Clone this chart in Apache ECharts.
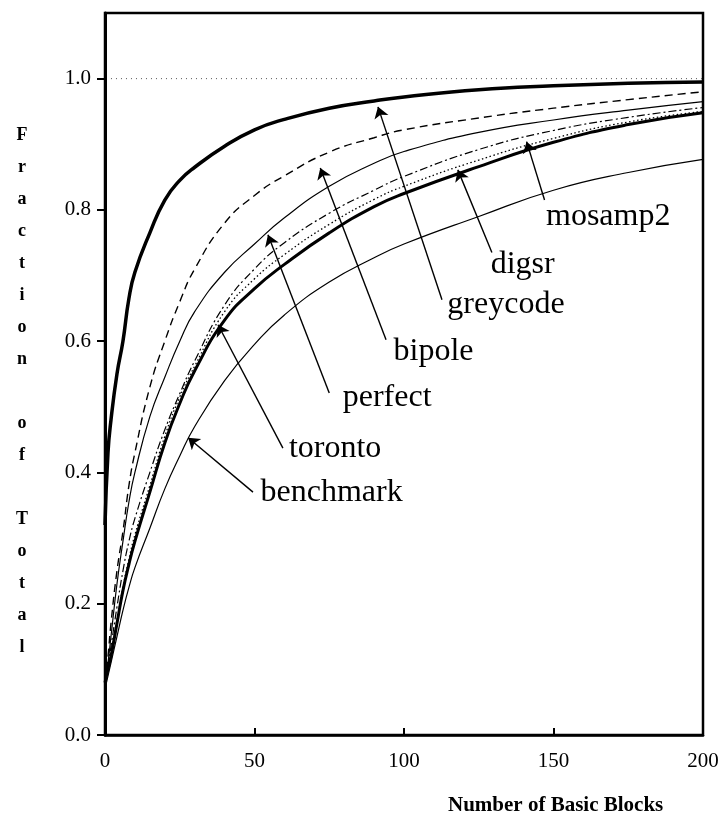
<!DOCTYPE html>
<html>
<head>
<meta charset="utf-8">
<script src="https://cdn.jsdelivr.net/npm/echarts/dist/echarts.min.js"></script>
<style>
  html, body { margin: 0; padding: 0; background: #fff; }
  #main { width: 724px; height: 815px; }
</style>
</head>
<body>
<div id="main"></div>
<script>
// number of basic blocks (x positions shared by every curve)
var blocks = [0, 1, 2, 4, 6, 8, 10, 15, 20, 25, 30, 40, 50, 60, 75, 90, 100, 125, 150, 175, 200];

// fraction of total
var greycode  = [0.32, 0.43, 0.48, 0.55, 0.60, 0.665, 0.705, 0.765, 0.815, 0.845, 0.865, 0.897, 0.922, 0.938, 0.955, 0.966, 0.972, 0.983, 0.989, 0.993, 0.995];
var bipole    = [0.08, 0.12, 0.17, 0.25, 0.31, 0.38, 0.43, 0.53, 0.60, 0.66, 0.71, 0.78, 0.822, 0.852, 0.888, 0.91, 0.922, 0.94, 0.955, 0.968, 0.98];
var perfect   = [0.08, 0.11, 0.15, 0.23, 0.295, 0.355, 0.40, 0.485, 0.545, 0.60, 0.645, 0.705, 0.748, 0.788, 0.836, 0.871, 0.889, 0.918, 0.937, 0.952, 0.965];
var mosamp2   = [0.08, 0.105, 0.135, 0.195, 0.25, 0.295, 0.33, 0.40, 0.465, 0.52, 0.57, 0.655, 0.71, 0.75, 0.795, 0.83, 0.851, 0.892, 0.921, 0.941, 0.956];
var digsr     = [0.08, 0.10, 0.125, 0.175, 0.225, 0.268, 0.305, 0.38, 0.455, 0.515, 0.562, 0.645, 0.695, 0.732, 0.778, 0.816, 0.836, 0.876, 0.909, 0.934, 0.95];
var toronto   = [0.08, 0.10, 0.12, 0.17, 0.22, 0.26, 0.295, 0.37, 0.445, 0.505, 0.555, 0.632, 0.68, 0.717, 0.765, 0.805, 0.825, 0.866, 0.903, 0.93, 0.948];
var benchmark = [0.07, 0.09, 0.11, 0.15, 0.19, 0.225, 0.255, 0.315, 0.375, 0.425, 0.47, 0.54, 0.595, 0.64, 0.69, 0.727, 0.748, 0.79, 0.83, 0.857, 0.877];

// dotted reference line at 1.0
var refX = [2, 200];
var refY = [1.0, 1.0];

// tick labels
var yTicks = [0, 0.2, 0.4, 0.6, 0.8, 1.0];
var xTicks = [0, 50, 100, 150, 200];

// annotations: name, arrow tail, arrow tip, text anchor (data units)
var noteNames = ['mosamp2', 'digsr', 'greycode', 'bipole', 'perfect', 'toronto', 'benchmark'];
var noteTail  = [[147, 0.815], [129.4, 0.735], [112.7, 0.663], [94, 0.602], [75, 0.521], [59.5, 0.437], [49.5, 0.37]];
var noteTip   = [[141, 0.904], [118, 0.861], [91.3, 0.957], [72, 0.864], [54.5, 0.762], [37.8, 0.625], [27.8, 0.453]];
var noteText  = [[147.5, 0.79], [129, 0.716], [114.5, 0.655], [96.5, 0.584], [79.5, 0.514], [61.5, 0.437], [52, 0.369]];

var yName = 'Fraction of Total';

var SERIF = '"Liberation Serif", "Times New Roman", serif';

function pairs(xs, ys) {
  var out = [];
  for (var i = 0; i < xs.length; i++) out.push([xs[i], ys[i]]);
  return out;
}

function curve(name, vals, width, type) {
  return {
    name: name,
    type: 'line',
    data: pairs(blocks, vals),
    showSymbol: false,
    smooth: 0.5,
    lineStyle: { color: '#000', width: width, type: type },
    z: 3
  };
}

var chart = echarts.init(document.getElementById('main'), null, { renderer: 'canvas' });

var arrows = [];
var labels = [];
for (var i = 0; i < noteNames.length; i++) {
  arrows.push({ coords: [noteTail[i], noteTip[i]] });
  labels.push({ name: noteNames[i], value: noteText[i] });
}

var option = {
  animation: false,
  backgroundColor: '#fff',
  title: {
    text: 'Number of Basic Blocks',
    left: 448,
    top: 795,
    padding: 0,
    textStyle: { fontFamily: SERIF, fontSize: 21, fontWeight: 'bold', color: '#000' }
  },
  graphic: [{
    type: 'text',
    x: 22,
    y: 119,
    style: {
      text: yName.split('').join('\n'),
      textAlign: 'center',
      textVerticalAlign: 'top',
      font: 'bold 18px ' + SERIF,
      lineHeight: 32,
      fill: '#000'
    }
  }],
  grid: {
    left: 105, right: 21, top: 13, bottom: 80,
    show: true, borderColor: '#000', borderWidth: 2.5
  },
  xAxis: {
    type: 'value',
    min: 0, max: 200, interval: 50,
    axisLine: { show: true, lineStyle: { color: '#000', width: 2.5 } },
    axisTick: { show: true, inside: true, length: 7, lineStyle: { color: '#000', width: 2 } },
    axisLabel: { margin: 16, color: '#000', fontFamily: SERIF, fontSize: 21,
      customValues: xTicks },
    splitLine: { show: false }
  },
  yAxis: {
    type: 'value',
    min: 0, max: 1.1,
    axisLine: { show: true, lineStyle: { color: '#000', width: 3 } },
    axisTick: { show: true, inside: false, length: 8, lineStyle: { color: '#000', width: 2 },
      customValues: yTicks },
    axisLabel: { margin: 14, color: '#000', fontFamily: SERIF, fontSize: 21,
      customValues: yTicks,
      formatter: function (v) { return v.toFixed(1); } },
    splitLine: { show: false }
  },
  series: [
    {
      name: 'ref', type: 'line', data: pairs(refX, refY), showSymbol: false,
      lineStyle: { color: '#555', width: 1, type: [1, 4] }, z: 2
    },
    curve('greycode', greycode, 3.5, 'solid'),
    curve('bipole', bipole, 1.4, [8, 5]),
    curve('perfect', perfect, 1.2, 'solid'),
    curve('mosamp2', mosamp2, 1.2, [8, 3, 2, 3]),
    curve('digsr', digsr, 1.3, [1.5, 2.5]),
    curve('toronto', toronto, 3, 'solid'),
    curve('benchmark', benchmark, 1.2, 'solid'),
    {
      name: 'arrows', type: 'lines', coordinateSystem: 'cartesian2d',
      data: arrows, symbol: ['none', 'arrow'], symbolSize: [0, 11],
      lineStyle: { color: '#000', width: 1.4, opacity: 1 }, z: 4
    },
    {
      name: 'labels', type: 'scatter', data: labels, symbolSize: 0,
      itemStyle: { opacity: 1 },
      label: {
        show: true, position: 'right', distance: 0,
        formatter: '{b}', color: '#000', fontFamily: SERIF, fontSize: 32
      },
      z: 5
    }
  ]
};

chart.setOption(option);
</script>
</body>
</html>
